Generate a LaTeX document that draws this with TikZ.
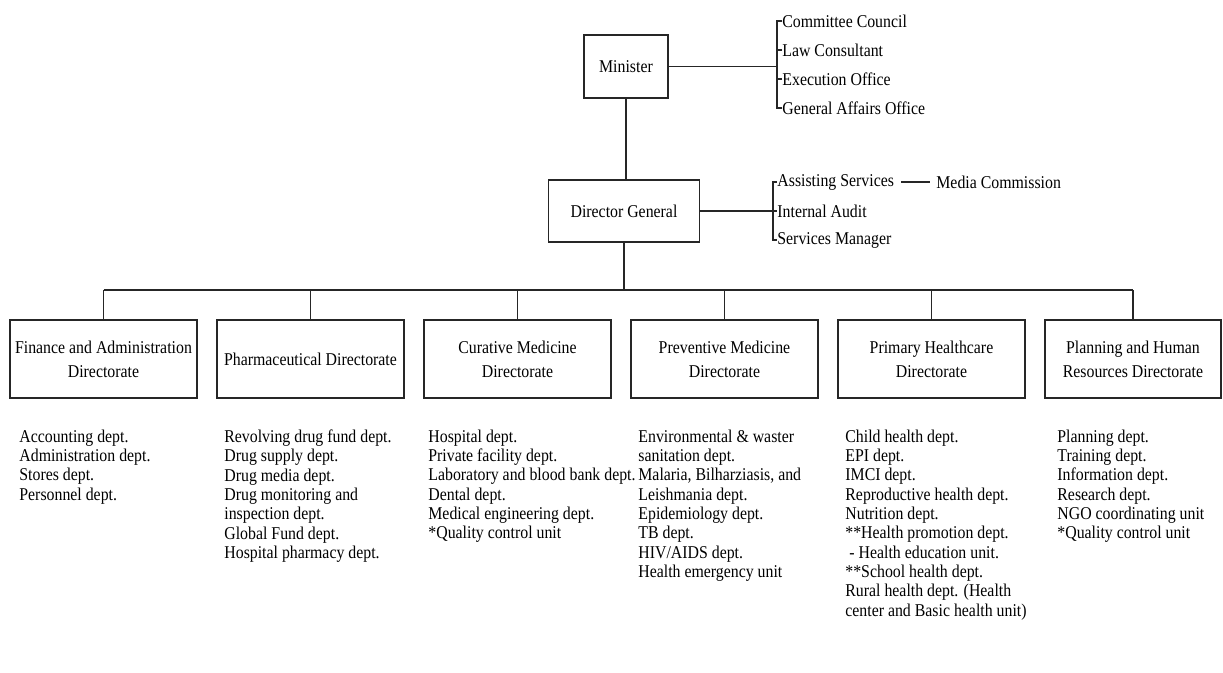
\documentclass[tikz,border=0pt]{standalone}
\usepackage{fontspec}
\setmainfont{Liberation Serif}[FakeStretch=0.88]
\usetikzlibrary{calc,positioning}
\newcommand{\pxunit}{0.5pt}
\tikzset{
    boxsty/.style={draw=black!85,line width=0.55pt,rectangle,align=center,inner sep=0pt,
                   font=\fontsize{9}{12}\selectfont},
    dirsty/.style={boxsty,minimum width=187*\pxunit,minimum height=78*\pxunit},
    namesty/.style={anchor=west,inner sep=0pt,font=\fontsize{9}{9.65}\selectfont},
    liststy/.style={anchor=north west,align=left,inner sep=0pt,font=\fontsize{9}{9.65}\selectfont},
    linesty/.style={draw=black!85,line width=0.55pt},
}

\begin{document}
\begin{tikzpicture}[x=\pxunit,y=-\pxunit]
  \useasboundingbox (0,0) rectangle (1223,673);

  % top of the chart
  \node[boxsty,minimum width=84*\pxunit,minimum height=63*\pxunit] (min) at (626,66.5) {Minister};
  \node[boxsty,minimum width=151*\pxunit,minimum height=62*\pxunit] (dg) at (624,211) {Director General};

  \coordinate (topbar) at (777,0);
  \node[namesty] (cc)  at (782,21)  {Committee Council};
  \node[namesty] (lc)  at (782,50)  {Law Consultant};
  \node[namesty] (eo)  at (782,79)  {Execution Office};
  \node[namesty] (gao) at (782,108) {General Affairs Office};

  \coordinate (dgbar) at (773,0);
  \node[namesty] (as) at (777,182) {Assisting Services};
  \node[namesty] (ia) at (777,211) {Internal Audit};
  \node[namesty] (sm) at (777,240) {Services Manager};
  \node[namesty] (mc) at (936,182) {Media Commission};

  \draw[linesty] (min.east) -- (min.east -| topbar);
  \draw[linesty] (cc.west) -- (topbar |- cc.west) -- (topbar |- gao.west) -- (gao.west);
  \draw[linesty] (topbar |- lc.west) -- (lc.west);
  \draw[linesty] (topbar |- eo.west) -- (eo.west);

  \draw[linesty] (dg.east) -- (dg.east -| dgbar);
  \draw[linesty] (as.west) -- (dgbar |- as.west) -- (dgbar |- sm.west) -- (sm.west);
  \draw[linesty] (dgbar |- ia.west) -- (ia.west);
  \draw[linesty,shorten <=3.5pt,shorten >=3pt] (as.east) -- (mc.west);

  \draw[linesty] (min.south) -- (min.south |- dg.north);

  % directorates
  \coordinate (bus) at (0,290);
  \node[dirsty] (dir1) at (103.5,359) {Finance and Administration\\Directorate};
  \node[dirsty] (dir2) at (310.5,359) {Pharmaceutical Directorate};
  \node[dirsty] (dir3) at (517.5,359) {Curative Medicine\\Directorate};
  \node[dirsty] (dir4) at (724.5,359) {Preventive Medicine\\Directorate};
  \node[dirsty] (dir5) at (931.5,359) {Primary Healthcare\\Directorate};
  \node[dirsty,minimum width=176*\pxunit] (dir6) at (1133,359) {Planning and Human\\Resources Directorate};

  \draw[linesty] (dg.south) -- (dg.south |- bus);
  \draw[linesty] (dir1.north |- bus) -- (dir6.north |- bus);
  \foreach \i in {1,...,6}
    \draw[linesty] (dir\i.north) -- (dir\i.north |- bus);

  % departments
  \node[liststy] (list1) at (19,429.5) {Accounting dept.\\Administration dept.\\Stores dept.\\Personnel dept.};
  \node[liststy] (list2) at (224,429.5) {Revolving drug fund dept.\\Drug supply dept.\\Drug media dept.\\Drug monitoring and\\inspection dept.\\Global Fund dept.\\Hospital pharmacy dept.};
  \node[liststy] (list3) at (428,429.5) {Hospital dept.\\Private facility dept.\\Laboratory and blood bank dept.\\Dental dept.\\Medical engineering dept.\\*Quality control unit};
  \node[liststy] (list4) at (638,429.5) {Environmental \& waster\\sanitation dept.\\Malaria, Bilharziasis, and\\Leishmania dept.\\Epidemiology dept.\\TB dept.\\HIV/AIDS dept.\\Health emergency unit};
  \node[liststy] (list5) at (845,429.5) {Child health dept.\\EPI dept.\\IMCI dept.\\Reproductive health dept.\\Nutrition dept.\\**Health promotion dept.\\\hspace*{2pt}- Health education unit.\\**School health dept.\\Rural health dept. (Health\\center and Basic health unit)};
  \node[liststy] (list6) at (1057,429.5) {Planning dept.\\Training dept.\\Information dept.\\Research dept.\\NGO coordinating unit\\*Quality control unit};
\end{tikzpicture}
\end{document}
